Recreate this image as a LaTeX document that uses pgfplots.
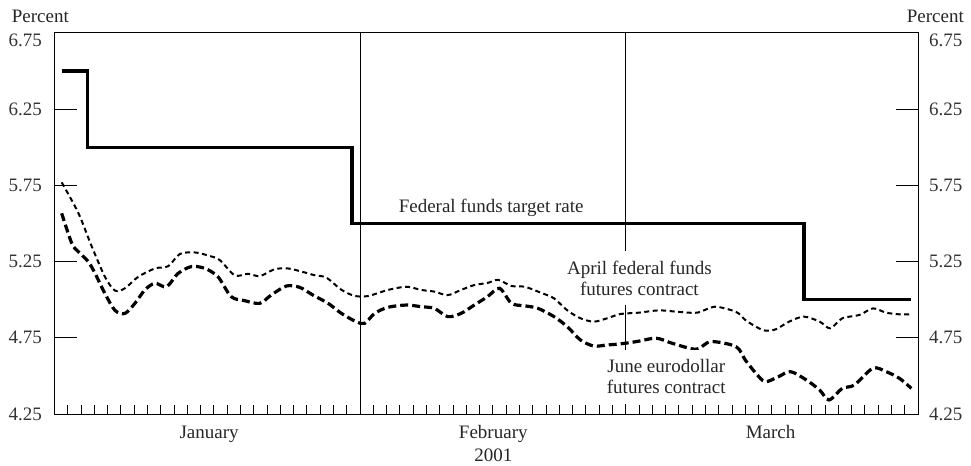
\documentclass[border=0pt]{standalone}
\usepackage{pgfplots}
\pgfplotsset{compat=1.18}
\usepackage{fontspec}
\setmainfont{Liberation Serif}
\newcommand{\lf}{\fontsize{19bp}{20.7bp}\selectfont}
\begin{document}
\begin{tikzpicture}
\useasboundingbox (-54.5bp,-52bp) rectangle (916.5bp,414bp);
\begin{axis}[
  at={(0,0)}, anchor=south west,
  scale only axis, width=863.5bp, height=381bp,
  xmin=0, xmax=65, ymin=4.25, ymax=6.75,
  clip=false,
  axis line style={line width=1bp, black},
  tick align=inside,
  xtick={1,...,22,24,25,...,42,44,45,...,64},
  xticklabels={},
  xtick pos=bottom,
  xtick style={line width=0.9bp, black, /pgfplots/major tick length=9bp},
  ytick={4.25,4.75,5.25,5.75,6.25,6.75},
  yticklabels={4.25,4.75,5.25,5.75,6.25,{}},
  ytick pos=both,
  yticklabel pos=left,
  ytick style={line width=1bp, black, /pgfplots/major tick length=22bp},
  yticklabel style={font=\lf, text=black!80, inner sep=0pt, xshift=-12.5bp},
  extra x ticks={23,43},
  extra x tick labels={},
  extra x tick style={grid=major, major grid style={black, line width=0.9bp}, /pgfplots/major tick length=0pt},
]
% Federal funds target rate
\addplot[black, line width=3.5bp, line join=miter, line cap=butt] coordinates {
(0.54,6.5) (2.5,6.5) (2.5,6.0) (22.4,6.0) (22.4,5.5) (56.4,5.5) (56.4,5.0) (64.5,5.0)
};
% April federal funds futures contract
\addplot[black, line width=2bp, dash pattern=on 5bp off 3.5bp, smooth, tension=0.5] coordinates {
(0.54,5.77) (1.79,5.57) (2.8,5.35) (3.8,5.15) (4.55,5.06) (5.3,5.075)
(6.3,5.15) (7.56,5.205) (8.56,5.22) (9.44,5.30) (10.56,5.31) (11.56,5.29) (12.44,5.26)
(13.57,5.16) (14.57,5.17) (15.45,5.155) (16.58,5.20) (17.58,5.205) (18.58,5.185)
(19.6,5.16) (20.46,5.145) (21.6,5.065) (22.6,5.025) (23.6,5.024) (25.1,5.064)
(26.5,5.085) (27.6,5.064) (28.6,5.053) (29.6,5.03) (30.6,5.064) (31.6,5.096)
(32.6,5.11) (33.4,5.13) (34.4,5.09) (35.4,5.085) (36.6,5.046) (37.6,5.009)
(38.6,4.93) (39.6,4.878) (40.6,4.856) (41.6,4.878) (42.6,4.906) (44.0,4.915)
(45.5,4.93) (47.0,4.92) (48.4,4.915) (49.7,4.954) (51.3,4.92) (52.0,4.867)
(52.8,4.823) (53.5,4.797) (54.3,4.806) (55.3,4.856) (56.4,4.889) (57.6,4.856)
(58.4,4.812) (59.3,4.878) (60.6,4.9) (61.6,4.943) (62.6,4.915) (63.6,4.904) (64.5,4.904)
};
% June eurodollar futures contract
\addplot[black, line width=3.2bp, dash pattern=on 8bp off 4bp, smooth, tension=0.5] coordinates {
(0.54,5.567) (1.3,5.37) (1.79,5.315) (2.54,5.25) (3.05,5.173) (3.8,5.04) (4.55,4.93)
(5.3,4.91) (6.05,4.976) (6.8,5.064) (7.56,5.108) (8.43,5.085) (9.31,5.173) (10.3,5.217)
(11.3,5.206) (12.3,5.151) (13.3,5.02) (14.3,4.994) (15.45,4.976) (16.3,5.03)
(17.46,5.09) (18.46,5.081) (19.46,5.03) (20.6,4.976) (21.6,4.91) (22.7,4.856)
(23.35,4.845) (24.1,4.91) (25.1,4.95) (26.5,4.965) (27.6,4.954) (28.6,4.943)
(29.6,4.889) (30.6,4.91) (31.6,4.965) (32.6,5.02) (33.5,5.075) (34.4,4.976)
(35.4,4.96) (36.4,4.943) (37.6,4.889) (38.6,4.823) (39.6,4.735) (40.6,4.696)
(41.6,4.703) (42.6,4.71) (43.8,4.725) (45.3,4.747) (46.5,4.714) (48.3,4.675)
(49.4,4.725) (51.3,4.692) (52.0,4.604) (52.8,4.517) (53.5,4.462) (54.5,4.495)
(55.4,4.528) (56.6,4.473) (57.6,4.407) (58.3,4.342) (59.3,4.418) (60.2,4.44)
(61.6,4.55) (62.6,4.528) (63.6,4.484) (64.5,4.418)
};
\node[anchor=base, font=\lf, text=black!85] at (axis cs:32.87,5.574) {Federal funds target rate};
\node[fill=white, align=center, inner xsep=3bp, inner ysep=10bp, font=\lf, text=black!85] at (axis cs:44.03,5.142) {April federal funds\\futures contract};
\node[fill=white, align=center, inner xsep=3bp, inner ysep=10bp, font=\lf, text=black!85] at (axis cs:46.05,4.494) {June eurodollar\\futures contract};
\node[anchor=base, font=\lf, text=black!85, yshift=-24.3bp] at (axis cs:11.64,4.25) {January};
\node[anchor=base, font=\lf, text=black!85, yshift=-24.3bp] at (axis cs:33.03,4.25) {February};
\node[anchor=base, font=\lf, text=black!85, yshift=-24.3bp] at (axis cs:53.9,4.25) {March};
\node[anchor=base, font=\lf, text=black!85, yshift=-47.7bp] at (axis cs:33.03,4.25) {2001};
\node[anchor=base west, font=\lf, text=black!85, xshift=-42.8bp, yshift=10.3bp, inner sep=0pt] at (axis cs:0,6.75) {Percent};
\node[anchor=base east, font=\lf, text=black!85, xshift=46bp, yshift=10.3bp, inner sep=0pt] at (axis cs:65,6.75) {Percent};
\node[anchor=base east, font=\lf, text=black!80, xshift=-12.5bp, yshift=-13.7bp, inner sep=0pt] at (axis cs:0,6.75) {6.75};
\node[anchor=base west, font=\lf, text=black!80, xshift=11bp, yshift=-13.7bp, inner sep=0pt] at (axis cs:65,6.75) {6.75};
\end{axis}
\begin{axis}[
  at={(0,0)}, anchor=south west,
  scale only axis, width=863.5bp, height=381bp,
  xmin=0, xmax=65, ymin=4.25, ymax=6.75,
  hide x axis,
  y axis line style={draw=none},
  ytick={4.25,4.75,5.25,5.75,6.25,6.75},
  yticklabels={4.25,4.75,5.25,5.75,6.25,{}},
  ytick pos=right,
  yticklabel pos=right,
  ytick style={draw=none},
  yticklabel style={font=\lf, text=black!80, inner sep=0pt, xshift=11bp},
]
\end{axis}
\end{tikzpicture}
\end{document}
